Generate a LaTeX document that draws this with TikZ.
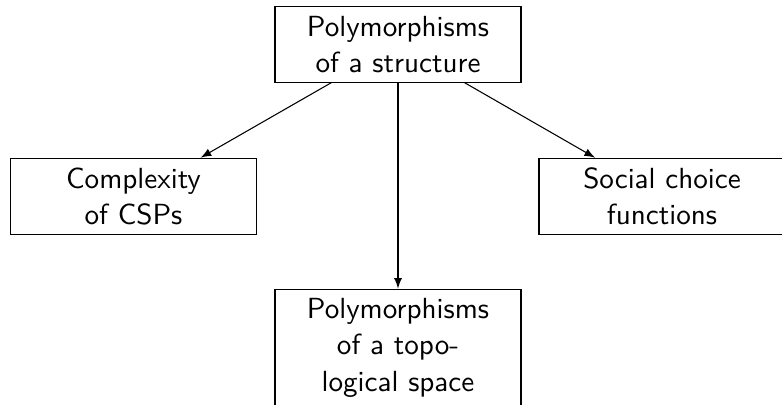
\documentclass[tikz,border=0pt]{standalone}
\usetikzlibrary{arrows}
\begin{document}
\begin{tikzpicture}[x=0.376pt,y=-0.376pt,
  box/.style={draw, rectangle, line width=0.4pt, minimum width=92.5pt, minimum height=28.4pt,
    inner xsep=0pt, inner ysep=3.5pt, align=center, font=\fontsize{10.95}{13.6}\selectfont\sffamily},
  conn/.style={-latex, line width=0.4pt}]
\useasboundingbox (0,0) rectangle (782,405);
\clip (0,0) rectangle (782,405);
\node[box] (top) at (398,44.4) {Polymorphisms\\of a structure};
\node[box] (left) at (133.5,196.2) {Complexity\\of CSPs};
\node[box] (right) at (662,196.2) {Social choice\\functions};
\node[box, anchor=north] (bottom) at (398,288.7) {Polymorphisms\\of a topo-\\logical space};
\draw[conn] (top) -- (left);
\draw[conn] (top) -- (right);
\draw[conn] (top) -- (bottom);
\end{tikzpicture}
\end{document}
